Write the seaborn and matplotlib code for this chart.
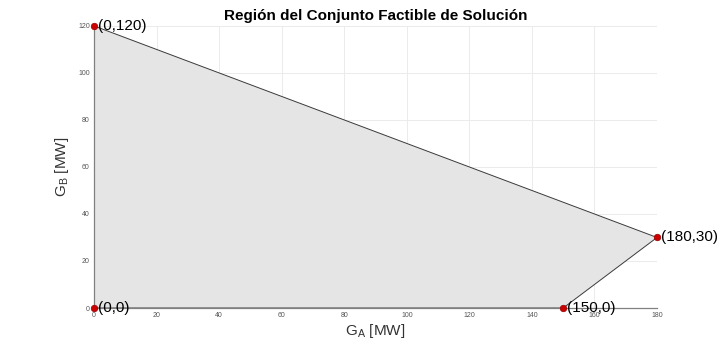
import matplotlib
matplotlib.use("Agg")
import matplotlib.pyplot as plt
import seaborn as sns
import pandas as pd

# vertices of the feasible region
ga_values = [0, 150, 180, 0]
gb_values = [0, 0, 30, 120]
point_labels = ["(0,0)", "(150,0)", "(180,30)", "(0,120)"]

x_ticks = [0, 20, 40, 60, 80, 100, 120, 140, 160, 180]
y_ticks = [0, 20, 40, 60, 80, 100, 120]

sns.set_style("whitegrid")
plt.rcParams['font.family'] = ['Liberation Sans', 'DejaVu Sans']

df = pd.DataFrame({"GA": ga_values, "GB": gb_values, "label": point_labels})

fig = plt.figure(figsize=(7.26, 3.46), dpi=100)
ax = fig.add_axes([0.1295, 0.1098, 0.7755, 0.8153])

ax.fill(df["GA"], df["GB"], facecolor="#e5e5e5", edgecolor="#3a3a3a", linewidth=0.7, zorder=2)
sns.scatterplot(data=df, x="GA", y="GB", color="#cc0000", s=22, edgecolor="#990000",
                linewidth=0.5, ax=ax, zorder=4, clip_on=False)

for _, row in df.iterrows():
    ax.text(row["GA"] + 1.2, row["GB"], row["label"], fontsize=11, va="center",
            ha="left", color="black", zorder=5)

ax.set_xlim(0, 180)
ax.set_ylim(0, 120)
ax.set_xticks(x_ticks)
ax.set_yticks(y_ticks)
ax.tick_params(axis="both", labelsize=5, colors="#555555", direction="in", length=3, pad=3)
ax.grid(True, color="#ebebeb", linewidth=0.7)
ax.set_axisbelow(True)

for side in ["top", "right"]:
    ax.spines[side].set_visible(False)
for side in ["left", "bottom"]:
    ax.spines[side].set_color("#808080")
    ax.spines[side].set_linewidth(0.9)

ax.set_title("Región del Conjunto Factible de Solución", fontsize=11, fontweight="bold",
             color="black", pad=4)
ax.set_xlabel(r"G$_\mathregular{A}$ [MW]", fontsize=11, color="#333333", labelpad=2)
ax.set_ylabel(r"G$_\mathregular{B}$ [MW]", fontsize=11, color="#333333", labelpad=5)

fig.savefig("out.png", dpi=100)
